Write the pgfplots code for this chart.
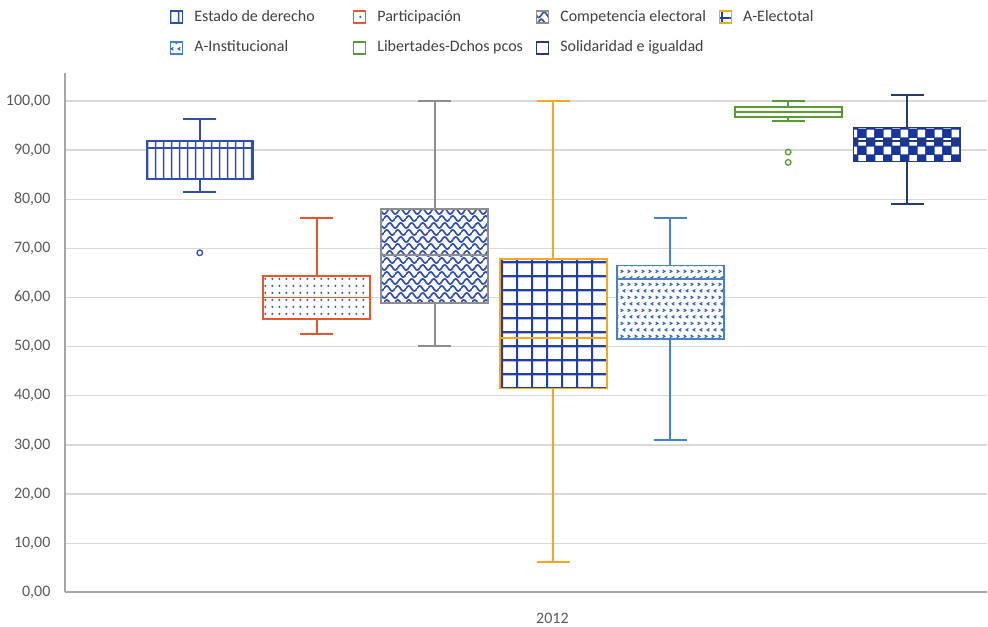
\documentclass[border=0pt]{standalone}
\usepackage{fontspec}
\setmainfont{Carlito}
\usepackage{pgfplots}
\pgfplotsset{compat=1.18}
\usepgfplotslibrary{statistics}
\usetikzlibrary{patterns.meta}

\definecolor{cEst}{HTML}{2E4FB0}
\definecolor{cPart}{HTML}{E8572B}
\definecolor{cPartP}{HTML}{3A5BBF}
\definecolor{cComp}{HTML}{8E8E8E}
\definecolor{cCompP}{HTML}{3050B0}
\definecolor{cElec}{HTML}{F5A623}
\definecolor{cElecP}{HTML}{2140A5}
\definecolor{cInst}{HTML}{4682CC}
\definecolor{cInstP}{HTML}{3060C0}
\definecolor{cLib}{HTML}{5A9A35}
\definecolor{cSol}{HTML}{283A6B}
\definecolor{cSolP}{HTML}{17359A}
\definecolor{cAxis}{HTML}{A6A6A6}
\definecolor{cGrid}{HTML}{D9D9D9}
\definecolor{cTick}{HTML}{595959}
\definecolor{cLeg}{HTML}{404040}

\tikzdeclarepattern{name=pVlines, type=uncolored,
  bounding box={(0bp,0bp) and (7.6bp,10bp)}, tile size={(7.6bp,10bp)},
  code={\draw[line width=1.5bp] (3.8bp,-1bp) -- (3.8bp,11bp);}}
\tikzdeclarepattern{name=pDots, type=uncolored,
  bounding box={(0bp,0bp) and (7.3bp,6.6bp)}, tile size={(7.3bp,6.6bp)},
  code={\fill (3.65bp,3.3bp) circle (1.3bp);}}
\tikzdeclarepattern{name=pGrid, type=uncolored,
  bounding box={(0bp,0bp) and (14.6bp,13.7bp)}, tile size={(14.6bp,13.7bp)},
  code={\draw[line width=2.2bp] (-1bp,6.85bp) -- (15.6bp,6.85bp);
        \draw[line width=2.2bp] (7.3bp,-1bp) -- (7.3bp,14.7bp);}}
\tikzdeclarepattern{name=pChecker, type=uncolored,
  bounding box={(0bp,0bp) and (17.2bp,17.2bp)}, tile size={(17.2bp,17.2bp)},
  code={\fill (0.3bp,0.3bp) rectangle (8.3bp,8.3bp);
        \fill (8.9bp,8.9bp) rectangle (16.9bp,16.9bp);}}
\tikzdeclarepattern{name=pWaves, type=uncolored,
  bounding box={(0bp,0bp) and (11bp,14bp)}, tile size={(11bp,14bp)},
  code={\draw[line width=1.7bp] (0bp,3.5bp) .. controls (2bp,7bp) and (3.5bp,7bp) .. (5.5bp,3.5bp) .. controls (7.5bp,0bp) and (9bp,0bp) .. (11bp,3.5bp);
        \draw[line width=1.7bp,shift={(3bp,7bp)}] (0bp,3.5bp) .. controls (2bp,7bp) and (3.5bp,7bp) .. (5.5bp,3.5bp) .. controls (7.5bp,0bp) and (9bp,0bp) .. (11bp,3.5bp);
        \draw[line width=1.7bp,shift={(-8bp,7bp)}] (0bp,3.5bp) .. controls (2bp,7bp) and (3.5bp,7bp) .. (5.5bp,3.5bp) .. controls (7.5bp,0bp) and (9bp,0bp) .. (11bp,3.5bp);}}
\tikzdeclarepattern{name=pChev, type=uncolored,
  bounding box={(0bp,0bp) and (7.3bp,13.4bp)}, tile size={(7.3bp,13.4bp)},
  code={\draw[line width=1.2bp] (1.8bp,11.4bp) -- (4.2bp,10.0bp) -- (1.8bp,8.6bp);
        \draw[line width=1.2bp] (7.0bp,4.7bp) -- (4.6bp,3.3bp) -- (7.0bp,1.9bp);}}

\begin{document}
\begin{tikzpicture}
\begin{axis}[
  scale only axis, width=923bp, height=520bp,
  xmin=65, xmax=988, ymin=0, ymax=105.7,
  axis x line*=bottom, axis y line*=left,
  axis line style={draw=cAxis, line width=2bp, -},
  ytick={0,10,...,100},
  xtick={553}, xticklabels={2012},
  major tick length=0pt,
  ymajorgrids, grid style={draw=cGrid, line width=1.3bp},
  ticklabel style={font=\fontsize{16bp}{19bp}\selectfont, text=cTick},
  xticklabel style={yshift=-17bp},
  yticklabel style={xshift=-11bp, /pgf/number format/.cd, fixed, fixed zerofill, precision=2, use comma, assume math mode=true},
  clip=false,
  boxplot/draw direction=y,
  boxplot/every whisker/.style={line width=2bp},
  legend columns=4,
  legend cell align=left,
  legend style={at={(axis description cs:0.1138,1.123)}, anchor=north west,
    draw=none, fill=none, inner sep=0pt, outer sep=0pt, row sep=15bp,
    font=\fontsize{16bp}{19bp}\selectfont, text=cLeg,
    nodes={inner sep=0pt, text height=12bp, text depth=4bp},
    /tikz/every odd column/.append style={column sep=11bp},
    /tikz/every even column/.append style={column sep=0bp}},
  legend image code/.code={\draw[preaction={fill=white}, #1] (0bp,-6bp) rectangle (12bp,6bp);},
]
% Estado de derecho
\addplot[forget plot, draw=cEst, line width=1.7bp, mark=o, mark size=2.8bp, mark options={solid, line width=1.3bp},
  boxplot prepared={draw position=200, lower whisker=81.5, lower quartile=84.1, median=90.4, upper quartile=91.9, upper whisker=96.3,
    box extend=107, whisker extend=33,
    every box/.append style={preaction={fill=white}, pattern=pVlines, pattern color=cEst}}]
  table[row sep=\\, y index=0] {data\\ 69.1\\};
% Participacion
\addplot[forget plot, draw=cPart, line width=1.7bp,
  boxplot prepared={draw position=317, lower whisker=52.6, lower quartile=55.7, median=60.0, upper quartile=64.4, upper whisker=76.2,
    box extend=107, whisker extend=33,
    every box/.append style={preaction={fill=white}, pattern=pDots, pattern color=cPartP}}]
  coordinates {};
% Competencia electoral
\addplot[forget plot, draw=cComp, line width=1.7bp,
  boxplot prepared={draw position=435, lower whisker=50.2, lower quartile=58.9, median=68.7, upper quartile=78.0, upper whisker=100,
    box extend=107, whisker extend=33,
    every box/.append style={preaction={fill=white}, pattern=pWaves, pattern color=cCompP}}]
  coordinates {};
% A-Electotal
\addplot[forget plot, draw=cElec, line width=1.8bp,
  boxplot prepared={draw position=554, lower whisker=6.1, lower quartile=41.5, median=51.8, upper quartile=67.9, upper whisker=100,
    box extend=107, whisker extend=33,
    every box/.append style={preaction={fill=white}, pattern=pGrid, pattern color=cElecP}}]
  coordinates {};
% A-Institucional
\addplot[forget plot, draw=cInst, line width=1.7bp,
  boxplot prepared={draw position=671, lower whisker=31.1, lower quartile=51.6, median=63.8, upper quartile=66.5, upper whisker=76.2,
    box extend=107, whisker extend=33,
    every box/.append style={preaction={fill=white}, pattern=pChev, pattern color=cInstP}}]
  coordinates {};
% Libertades-Dchos pcos
\addplot[forget plot, draw=cLib, line width=1.7bp, mark=o, mark size=2.8bp, mark options={solid, line width=1.3bp},
  boxplot prepared={draw position=789, lower whisker=96.0, lower quartile=96.7, median=97.7, upper quartile=98.8, upper whisker=100,
    box extend=107, whisker extend=33}]
  table[row sep=\\, y index=0] {data\\ 89.6\\ 87.5\\};
% Solidaridad e igualdad
\addplot[forget plot, draw=cSol, line width=1.7bp,
  boxplot prepared={draw position=908, lower whisker=79.0, lower quartile=87.7, median=91.8, upper quartile=94.6, upper whisker=101.2,
    box extend=107, whisker extend=33,
    every box/.append style={preaction={fill=cSolP}, pattern=pChecker, pattern color=white}}]
  coordinates {};

\addlegendimage{draw=cEst, line width=1.6bp, pattern=pVlines, pattern color=cEst}
\addlegendentry{\makebox[158.5bp][l]{Estado de derecho}}
\addlegendimage{draw=cPart, line width=1.6bp, pattern=pDots, pattern color=cPartP}
\addlegendentry{\makebox[158.5bp][l]{Participación}}
\addlegendimage{draw=cComp, line width=1.6bp, pattern=pWaves, pattern color=cCompP}
\addlegendentry{\makebox[158.5bp][l]{Competencia electoral}}
\addlegendimage{draw=cElec, line width=1.6bp, pattern=pGrid, pattern color=cElecP}
\addlegendentry{\makebox[158.5bp][l]{A-Electotal}}
\addlegendimage{draw=cInst, line width=1.6bp, pattern=pChev, pattern color=cInstP}
\addlegendentry{\makebox[158.5bp][l]{A-Institucional}}
\addlegendimage{draw=cLib, line width=1.6bp}
\addlegendentry{\makebox[158.5bp][l]{Libertades-Dchos pcos}}
\addlegendimage{draw=cSol, line width=1.6bp, preaction={fill=cSolP}, pattern=pChecker, pattern color=white}
\addlegendentry{\makebox[158.5bp][l]{Solidaridad e igualdad}}

\path (rel axis cs:-0.07042,-0.06538) rectangle (rel axis cs:1,1.14038);
\end{axis}
\end{tikzpicture}
\end{document}
